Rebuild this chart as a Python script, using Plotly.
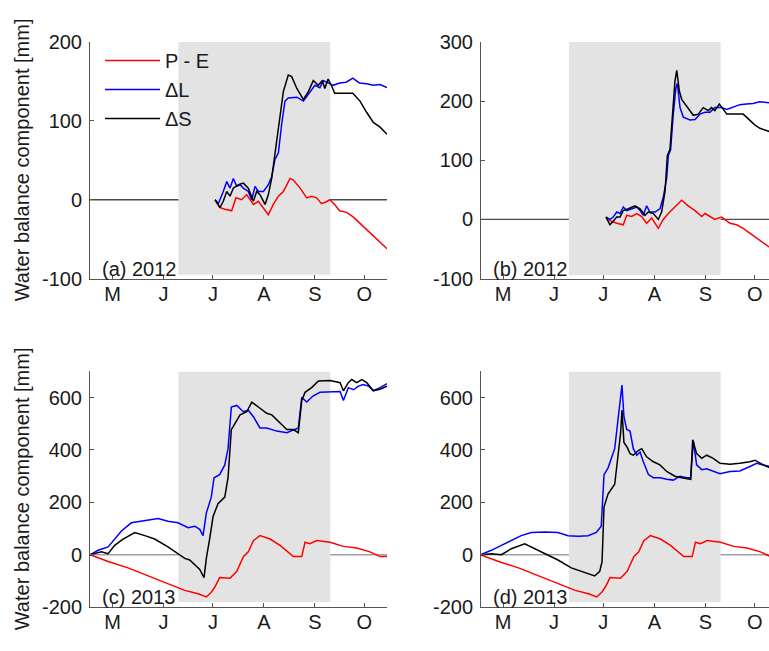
import plotly.graph_objects as go

# ---------------- data (x = days since 1 May) ----------------
month_ticks = [0, 31, 61, 92, 123, 153]
month_labels = ["M", "J", "J", "A", "S", "O"]

shade_start = 40.0
shade_end = 132.3

# (a) 2012
pe_a_day = [62.3, 65.3, 68.4, 72.4, 75, 78.5, 81.5, 85.6, 88.6, 91.7, 94.7, 97.7, 100.8, 103.8, 107.9, 109.9,
            114, 118, 121, 124, 127, 130, 132, 135, 138, 142.3, 146.4, 150.4, 154.5, 158.5, 162.6, 166.8]
pe_a = [0, -10, -12, -14, 2.5, 0, 6.5, -6, -2, -10, -19, -6, 4.5, 10.5, 27, 25,
        14.7, 2.4, 4.5, 2.4, -5, -2.5, 0, -6, -14, -16, -22, -30, -38, -46, -54, -62]
dl_a_day = [62.3, 64.3, 67.3, 69.4, 71.4, 73.4, 75.5, 77.5, 79.5, 82.5, 84.6, 86.6, 88.6, 91.7, 94.7, 96.7,
            98.7, 100.8, 102.8, 104.8, 106.8, 112, 116, 119, 123, 126, 128, 131, 134, 138, 142, 146, 150,
            154.5, 158.5, 162.6, 166.8]
dl_a = [0, -5, 10.5, 23, 14.7, 27, 17, 19, 14.7, 10.5, 0, 17, 10.5, 10.5, 19, 29,
        51, 59.5, 96, 125, 129, 130, 125, 133, 145, 142, 151, 148, 145, 148, 149, 154, 148,
        147, 145, 146, 142]
ds_a_day = [62.3, 65.3, 67.3, 69.4, 71.4, 73.4, 76.5, 79.5, 82.5, 85.6, 87.6, 89.6, 92.7, 94.7, 96.7, 98.7,
            101.8, 103.8, 106.8, 108.9, 112, 116, 119, 122, 125, 127.5, 129, 131, 133, 135, 146, 150.4,
            154.5, 158.5, 162.6, 166.8]
ds_a = [0, -10, -2, 10.5, 4.5, 14.7, 19, 21, 14.7, -2, 10.5, 6.5, -6, 6.5, 27, 59.5,
        108.5, 137, 158, 156, 141, 127, 137, 151, 145, 151, 141, 153, 145, 135, 135, 125,
        110.5, 98, 92, 83]

# (b) 2012
pe_b_day = [62.6, 65, 69.1, 73.1, 75.2, 78.2, 81.3, 84.3, 87.3, 90.4, 94.4, 97.4, 100.5, 104.5, 108.6,
            112.6, 116.7, 120.8, 122.8, 125.8, 128.8, 132.9, 136, 138, 142, 146, 150, 154.2, 162]
pe_b = [4.4, -2, -6.5, -9, 7, 5, 10, 5, -6.5, 2.5, -15, 0, 10, 21, 32.6,
        23, 15, 5, 10, 5, 0, 4, -3, -6.5, -9, -15, -23, -31, -47]
dl_b_day = [62.6, 65, 67, 69.1, 71.1, 73.1, 75.2, 78.2, 81.3, 83.3, 85.3, 87.3, 89.3, 92.4, 95.4, 97.4,
            99.5, 100.5, 101.9, 103.5, 105.1, 106, 107.6, 109.6, 113.6, 116.7, 119.7, 122.8, 125.8, 128.8,
            132.9, 136, 140, 144, 148, 152, 156, 162]
dl_b = [4, 0, 4, 12.5, 10, 21, 15, 18, 21, 15, 7, 23, 12.5, 12.5, 18, 37,
        70, 108, 118, 178, 222, 230, 189, 173, 168, 169, 178, 181, 181, 189,
        189, 186, 190.5, 194, 195, 196, 199, 197]
ds_b_day = [62.6, 65, 67, 69.1, 71.1, 73.1, 76.2, 80.2, 83.3, 86.3, 88.3, 91.4, 94.4, 96.4, 98.5, 99.9,
            101.5, 103.1, 104.5, 105.6, 107.2, 108.6, 111.6, 115.7, 118.7, 121.7, 124.8, 126.8, 128.8,
            131.5, 133.9, 136, 146, 149, 153.2, 156.2, 162]
ds_b = [4, -9, -3, 4, 4, 15, 18, 23, 18, 7, 12.5, 10, 0, 12.5, 48, 108,
        118.7, 178, 233, 252, 217, 203, 192, 176, 178, 189, 184, 189, 184,
        195, 186, 178, 178, 170, 159.5, 154, 148.6]

# 2013 P - E (same in c and d)
pe_2013_day = [-13.7, -2.7, 9.4, 21.6, 33.7, 43.9, 52, 57, 60, 62.1, 65.1, 71.4, 75.5, 79.5, 82.5, 85.6,
               89.6, 95.7, 101.8, 109.9, 115, 117, 120, 124.1, 132.2, 140.3, 148.4, 156.5, 162.6, 166.8]
pe_2013 = [0, -26, -50, -81, -112, -136, -149, -161, -143, -124, -87, -90, -63, -7, 11, 54,
           73, 60, 36, -7, -7, 48, 42, 54, 48, 32, 26, 11, -7, -7]

# (c) 2013
dl_c_day = [-13.7, -8.8, -2.7, 1.3, 5.4, 11.4, 17.5, 23.6, 27.7, 33.7, 39.8, 45.9, 50, 53, 55, 57, 60, 61.7,
            65.1, 68.2, 70.2, 72.2, 75.5, 79.5, 82.5, 85.6, 89.6, 93.7, 99.8, 105.9, 109.9, 112.9, 115, 118,
            122, 126.1, 138.3, 140.3, 143.3, 146.4, 149.4, 152.4, 155.5, 158.5, 162.6, 166.8]
dl_c = [0, 17, 30, 60, 91, 122, 128, 136, 138, 128, 122, 103, 109, 97, 73, 159, 220, 294,
        306, 343, 405, 564, 570, 546, 552, 527, 484, 484, 472, 466, 478, 484, 601, 583,
        607, 620, 623, 589, 638, 630, 644, 650, 644, 626, 638, 653]
ds_c_day = [-13.7, -6.8, -2.7, 1.3, 6.4, 13.5, 19.6, 25.6, 33.7, 39.8, 43.9, 46.9, 50, 53, 55.6, 57, 59,
            61.1, 64.1, 68.2, 70.2, 72.2, 73.4, 77.5, 81.6, 84.6, 88.6, 93.7, 96.8, 101.8, 105.9, 109.9,
            112.9, 115, 117, 121, 125.1, 132.2, 138.3, 140.3, 143.3, 145.4, 148.4, 151.5, 154.5, 158.5,
            162.6, 166.8]
ds_c = [0, 11, 4, 36, 60, 85, 73, 60, 30, 5, -14, -20, -38, -56, -87, -14, 60,
        146, 195, 220, 294, 478, 490, 534, 546, 583, 564, 540, 534, 503, 478, 478,
        466, 589, 620, 638, 663, 665, 657, 626, 657, 669, 657, 669, 657, 626,
        632, 644]

# (d) 2013
dl_d_day = [-13.7, -7.1, -1, 5, 11.1, 17.2, 25.3, 33.4, 39.5, 45.6, 51.7, 56.7, 59.7, 61.4, 63.8, 67.9,
            69.9, 71.5, 72.3, 73.5, 75.2, 77.2, 79.2, 81.3, 83.3, 85.3, 88.4, 91.4, 95.4, 99.5, 103.5,
            107.6, 111.6, 114.1, 115.7, 117.7, 120.8, 123.8, 127.8, 131.9, 138, 144, 150.1, 154.2,
            158.2, 162]
dl_d = [0, 17, 36, 54, 73, 85, 87, 85, 73, 71, 73, 85, 109, 306, 331, 405,
        515, 589, 648, 527, 478, 472, 405, 380, 392, 355, 306, 294, 294, 288, 285,
        300, 294, 294, 435, 343, 325, 328, 318, 309, 318, 320, 337, 349,
        343, 337]
ds_d_day = [-13.7, -7.1, -1, 5, 13.2, 19.3, 25.3, 33.4, 41.5, 47.6, 55.7, 58.8, 60.2, 61.4, 63.8, 67.9,
            69.9, 71.5, 72.3, 73.5, 75.5, 77.2, 79.2, 82.2, 84.3, 87.3, 91.4, 95.4, 99.5, 104.5, 108.6,
            114.1, 115.3, 117.7, 120.8, 123.8, 127.8, 131.9, 138, 144, 150.1, 153.2, 158.2, 162]
ds_d = [0, 4, 0, 23, 42, 23, 4, -20, -50, -63, -81, -63, -26, 183, 232, 269,
        368, 466, 552, 429, 410, 386, 380, 398, 405, 374, 355, 343, 318, 300, 294,
        288, 439, 386, 368, 380, 368, 349, 346, 349, 355, 361, 343, 333]

ytick_top_a = [-100, 0, 100, 200]
ytick_top_b = [-100, 0, 100, 200, 300]
ytick_bottom = [-200, 0, 200, 400, 600]

panel_labels = ["(a) 2012", "(b) 2012", "(c) 2013", "(d) 2013"]
y_title = "Water balance component [mm]"

# ---------------- layout geometry ----------------
W, H = 769, 651
FONT = "Liberation Sans, Arial, sans-serif"
FS = 20
AX_COLOR = "#555555"
TXT = "#1a1a1a"

def px_x(p):
    return p / W

def px_y(p):
    return 1 - p / H

panels = [
    dict(dom_x=(90, 387), dom_y=(32, 277), xr=(-13.7, 166.8), yr=(-100, 200), yt=ytick_top_a,
         shade_y=(-95, 200), zc="#4a4a4a",
         series=[(pe_a_day, pe_a), (dl_a_day, dl_a), (ds_a_day, ds_a)]),
    dict(dom_x=(481, 769), dom_y=(32, 277), xr=(-13.4, 161.7), yr=(-100, 300), yt=ytick_top_b,
         shade_y=(-94, 300), zc="#4a4a4a",
         series=[(pe_b_day, pe_b), (dl_b_day, dl_b), (ds_b_day, ds_b)]),
    dict(dom_x=(90, 387), dom_y=(373, 617), xr=(-13.7, 166.8), yr=(-200, 700), yt=ytick_bottom,
         shade_y=(-180, 700), zc="#a0a0a0",
         series=[(pe_2013_day, pe_2013), (dl_c_day, dl_c), (ds_c_day, ds_c)]),
    dict(dom_x=(481, 769), dom_y=(373, 617), xr=(-13.4, 161.7), yr=(-200, 700), yt=ytick_bottom,
         shade_y=(-180, 700), zc="#a0a0a0",
         series=[(pe_2013_day, pe_2013), (dl_d_day, dl_d), (ds_d_day, ds_d)]),
]

names = ["P - E", "\u0394L", "\u0394S"]
colors = ["#ff0000", "#0000ff", "#000000"]

fig = go.Figure()
shapes = []
annotations = []
layout = {}

for i, p in enumerate(panels):
    n = "" if i == 0 else str(i + 1)
    xa, ya = "x" + n, "y" + n
    for k, (xs, ys) in enumerate(p["series"]):
        fig.add_trace(go.Scatter(
            x=xs, y=ys, mode="lines", name=names[k],
            line=dict(color=colors[k], width=1.5),
            xaxis=xa, yaxis=ya, showlegend=(i == 0), hoverinfo="skip"))
    shapes.append(dict(type="rect", xref=xa, yref=ya, x0=shade_start, x1=shade_end,
                       y0=p["shade_y"][0], y1=p["shade_y"][1], fillcolor="#e3e3e3",
                       line=dict(width=0), layer="below"))
    shapes.append(dict(type="line", xref=xa + " domain", yref=ya, x0=0, x1=1, y0=0, y1=0,
                       line=dict(color=p["zc"], width=1.3), layer="below"))
    layout["xaxis" + n] = dict(
        domain=[px_x(p["dom_x"][0]), px_x(p["dom_x"][1])], anchor=ya, range=list(p["xr"]),
        tickmode="array", tickvals=month_ticks, ticktext=month_labels,
        ticks="inside", ticklen=4, tickcolor=AX_COLOR, showline=True, linecolor=AX_COLOR,
        linewidth=1, showgrid=False, zeroline=False, tickfont=dict(size=FS, color=TXT),
        ticklabelstandoff=-3, fixedrange=True)
    layout["yaxis" + n] = dict(
        domain=[px_y(p["dom_y"][1]), px_y(p["dom_y"][0])], anchor=xa, range=list(p["yr"]),
        tickmode="array", tickvals=p["yt"], ticktext=[str(v) for v in p["yt"]],
        ticks="inside", ticklen=4, tickcolor=AX_COLOR,
        showline=True, linecolor=AX_COLOR, linewidth=1, showgrid=False, zeroline=False,
        tickfont=dict(size=FS, color=TXT), ticklabelstandoff=3, fixedrange=True)
    annotations.append(dict(text=panel_labels[i], xref="paper", yref="paper",
                            x=px_x(p["dom_x"][0] + 10), y=px_y(p["dom_y"][1] - 10),
                            xanchor="left", yanchor="middle", showarrow=False,
                            font=dict(size=FS, color=TXT)))

for top, bot in [(32, 277), (373, 617)]:
    annotations.append(dict(text=y_title, xref="paper", yref="paper", x=px_x(22),
                            y=px_y((top + bot) / 2), textangle=-90, showarrow=False,
                            xanchor="center", yanchor="middle",
                            font=dict(size=FS, color=TXT)))

fig.update_layout(
    width=W, height=H, margin=dict(l=0, r=0, t=0, b=0),
    paper_bgcolor="white", plot_bgcolor="white",
    font=dict(family=FONT, size=FS, color=TXT),
    shapes=shapes, annotations=annotations,
    legend=dict(x=px_x(100), y=px_y(31), xanchor="left", yanchor="top",
                bgcolor="rgba(0,0,0,0)", font=dict(size=FS), itemwidth=55,
                tracegroupgap=0),
    **layout)

fig.write_html("out.html")
